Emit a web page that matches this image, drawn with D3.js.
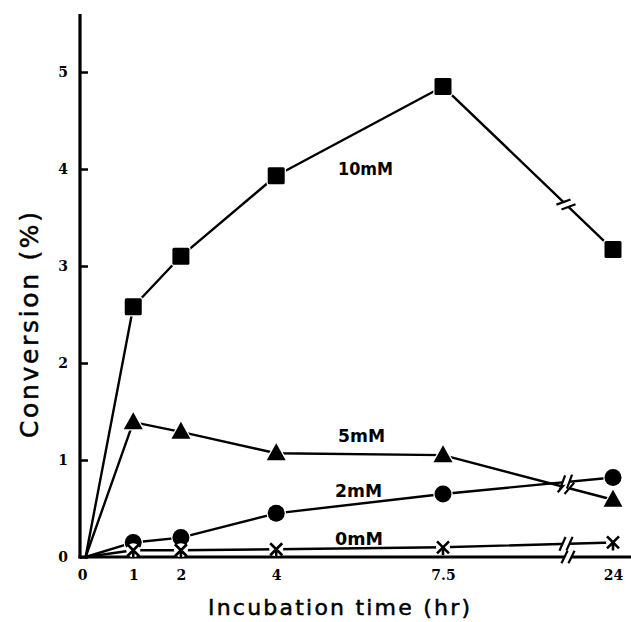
<!DOCTYPE html>
<html>
<head>
<meta charset="utf-8">
<script src="https://cdn.jsdelivr.net/npm/d3@7"></script>
<style>
  html, body { margin: 0; padding: 0; background: #fff; }
  svg { display: block; }
</style>
</head>
<body>
<svg id="chart" width="631" height="622"></svg>
<script>
// Incubation times (hr) and conversion (%) for each substrate concentration
const times = [0, 1, 2, 4, 7.5, 24];
const tickLabels = ["0", "1", "2", "4", "7.5", "24"];
const yTicks = [0, 1, 2, 3, 4, 5];
const conc10 = [0, 2.58, 3.10, 3.93, 4.85, 3.17];
const conc5  = [0, 1.39, 1.29, 1.07, 1.05, 0.59];
const conc2  = [0, 0.15, 0.20, 0.45, 0.65, 0.82];
const conc0  = [0, 0.07, 0.07, 0.08, 0.10, 0.15];
const seriesNames = ["10mM", "5mM", "2mM", "0mM"];
const markerTypes = ["square", "triangle", "circle", "cross"];

const svg = d3.select("#chart");
const axisX0 = 80, axisY0 = 557;

// broken time axis: linear up to 7.5 hr, then a compressed jump to 24 hr
const x = d3.scaleLinear().domain([0, 7.5, 24]).range([85.6, 443, 613]);
const y = d3.scaleLinear().domain([0, 5]).range([557, 72]);
const breakPx = 566;

const series = [conc10, conc5, conc2, conc0].map((vals, i) => ({
  name: seriesNames[i],
  marker: markerTypes[i],
  points: vals.map((v, j) => ({ t: times[j], v }))
}));

// Axes
const yAxis = d3.axisLeft(y).tickValues(yTicks).tickSize(-8).tickPadding(12)
  .tickFormat(d3.format("d"));
const gy = svg.append("g").attr("transform", `translate(${axisX0},0)`).call(yAxis);
gy.select(".domain").remove();
gy.selectAll(".tick line").attr("stroke", "#000").attr("stroke-width", 2.5);
gy.selectAll(".tick text")
  .attr("font-family", "DejaVu Serif").attr("font-weight", "bold")
  .attr("font-size", 14).attr("fill", "#000");

svg.append("line").attr("x1", axisX0).attr("x2", axisX0)
  .attr("y1", 14).attr("y2", axisY0 + 1.5)
  .attr("stroke", "#000").attr("stroke-width", 3.2);

const xAxis = d3.axisBottom(x).tickValues(times).tickSize(0).tickPadding(13)
  .tickFormat((d, i) => tickLabels[i]);
const gx = svg.append("g").attr("transform", `translate(0,${axisY0})`).call(xAxis);
gx.select(".domain").remove();
gx.selectAll(".tick text")
  .attr("font-family", "DejaVu Serif").attr("font-weight", "bold")
  .attr("font-size", 14).attr("fill", "#000");
gx.selectAll(".tick").filter(d => d === 0).attr("transform", `translate(${x(0) - 3},0)`);

svg.append("line").attr("x1", axisX0 - 1.5).attr("x2", 631)
  .attr("y1", axisY0).attr("y2", axisY0)
  .attr("stroke", "#000").attr("stroke-width", 3.2);

// break marks drawn across a line at pixel column bx
function drawBreak(g, x1, y1, x2, y2, bx, len, width) {
  const f = (bx - x1) / (x2 - x1);
  const by = y1 + f * (y2 - y1);
  const ang = Math.atan2(y2 - y1, x2 - x1);
  const gap = 3.5;
  const ux = Math.cos(ang), uy = Math.sin(ang);
  g.append("line")
    .attr("x1", bx - ux * gap).attr("y1", by - uy * gap)
    .attr("x2", bx + ux * gap).attr("y2", by + uy * gap)
    .attr("stroke", "#fff").attr("stroke-width", width + 3);
  const slant = ang - Math.PI / 2 + 0.45;
  [-gap, gap].forEach(o => {
    const cx = bx + ux * o, cy = by + uy * o;
    g.append("line")
      .attr("x1", cx - Math.cos(slant) * len / 2).attr("y1", cy - Math.sin(slant) * len / 2)
      .attr("x2", cx + Math.cos(slant) * len / 2).attr("y2", cy + Math.sin(slant) * len / 2)
      .attr("stroke", "#000").attr("stroke-width", 2.2);
  });
}

const gBreakAxis = svg.append("g");
drawBreak(gBreakAxis, axisX0, axisY0, 631, axisY0, breakPx + 2, 14, 3.2);

// Series lines
const line = d3.line().x(d => x(d.t)).y(d => y(d.v));
const gLines = svg.append("g");
series.forEach(s => {
  gLines.append("path").datum(s.points).attr("d", line)
    .attr("fill", "none").attr("stroke", "#000").attr("stroke-width", 2.4)
    .attr("stroke-linejoin", "round");
  const a = s.points[4], b = s.points[5];
  drawBreak(gLines, x(a.t), y(a.v), x(b.t), y(b.v), breakPx, 15, 2.4);
});

// Markers, with a white rim so the lines stop short of each symbol
const gMarks = svg.append("g");
series.forEach(s => {
  s.points.slice(1).forEach(p => {
    const cx = x(p.t), cy = y(p.v);
    const g = gMarks.append("g").attr("transform", `translate(${cx},${cy})`);
    if (s.marker === "square") {
      g.append("rect").attr("x", -8.5).attr("y", -8.5).attr("width", 17).attr("height", 17)
        .attr("rx", 1.5).attr("fill", "#000").attr("stroke", "#fff").attr("stroke-width", 2.5)
        .attr("paint-order", "stroke");
    } else if (s.marker === "triangle") {
      g.append("path").attr("d", "M0,-10 L9.5,7 L-9.5,7 Z")
        .attr("fill", "#000").attr("stroke", "#fff").attr("stroke-width", 2.5)
        .attr("stroke-linejoin", "round").attr("paint-order", "stroke");
    } else if (s.marker === "circle") {
      g.append("circle").attr("r", 8.5).attr("fill", "#000")
        .attr("stroke", "#fff").attr("stroke-width", 2.5).attr("paint-order", "stroke");
    } else {
      g.append("circle").attr("r", 7).attr("fill", "#fff");
      g.append("path").attr("d", "M-6,-6 L6,6 M6,-6 L-6,6 M0,0 L0,8")
        .attr("stroke", "#000").attr("stroke-width", 2.6).attr("fill", "none");
    }
  });
});

// Series labels (left edge, baseline, drawn width)
const labelPos = [[338, 175, 55], [338, 442, 47], [335, 497, 47], [335, 545, 48]];
series.forEach((s, i) => {
  svg.append("text").attr("x", labelPos[i][0]).attr("y", labelPos[i][1])
    .attr("font-family", "DejaVu Sans").attr("font-weight", "bold").attr("font-size", 18)
    .attr("textLength", labelPos[i][2]).attr("lengthAdjust", "spacingAndGlyphs")
    .attr("fill", "#000").text(s.name);
});

// Axis titles
svg.append("text").attr("transform", "translate(38,438) rotate(-90)")
  .attr("font-family", "DejaVu Sans").attr("font-size", 25)
  .attr("textLength", 226).attr("lengthAdjust", "spacing")
  .attr("fill", "#000").attr("stroke", "#000").attr("stroke-width", 0.5)
  .text("Conversion (%)");
svg.append("text").attr("x", 208).attr("y", 615)
  .attr("font-family", "DejaVu Sans").attr("font-size", 22)
  .attr("textLength", 262).attr("lengthAdjust", "spacing")
  .attr("fill", "#000").attr("stroke", "#000").attr("stroke-width", 0.5)
  .text("Incubation time (hr)");
</script>
</body>
</html>
